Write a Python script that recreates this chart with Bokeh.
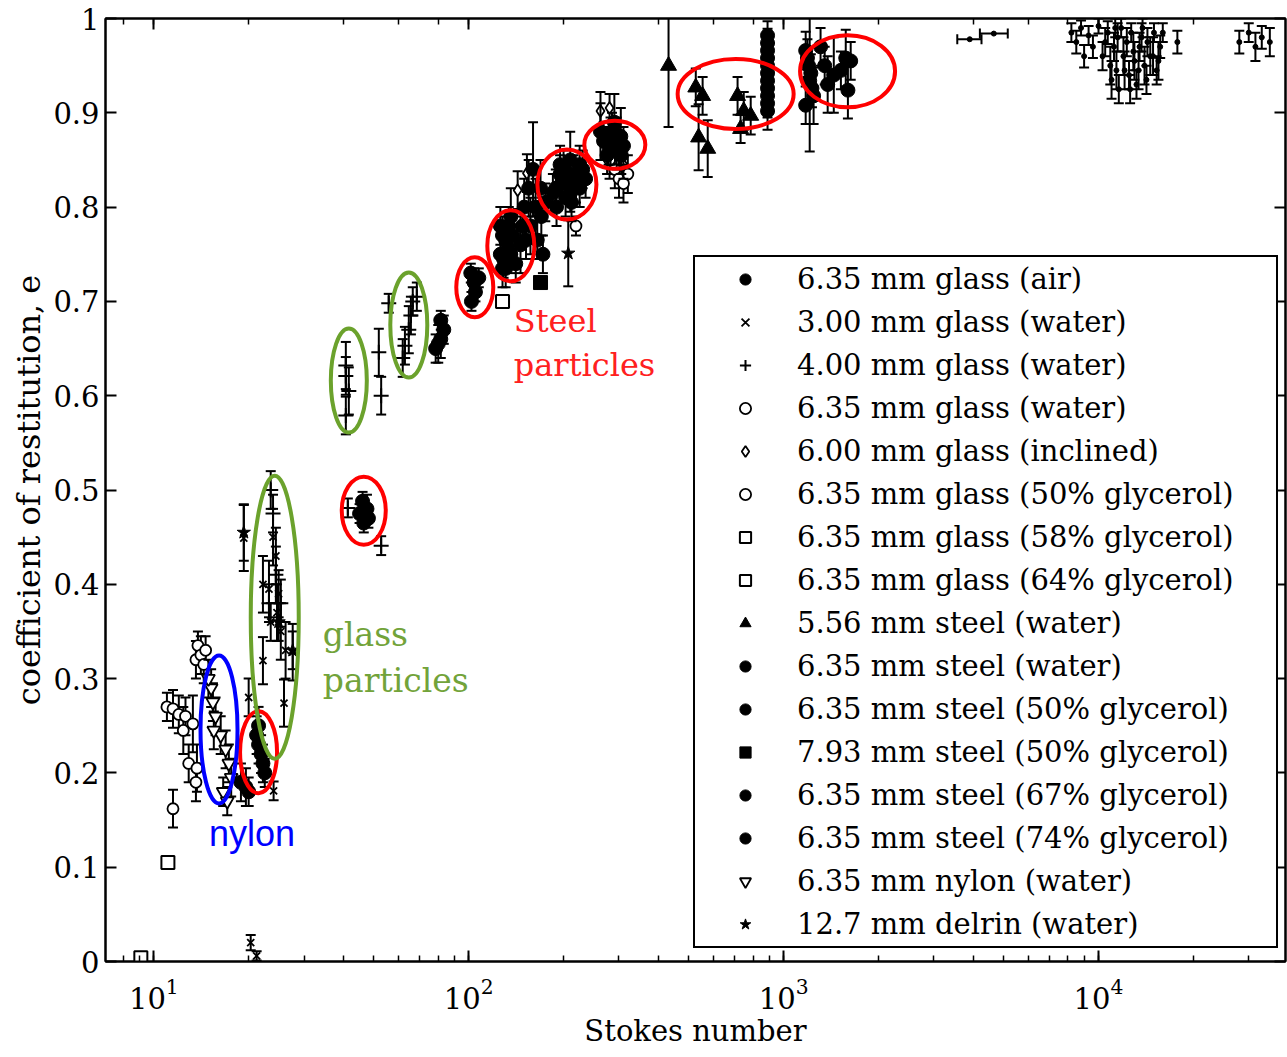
import numpy as np
from bokeh.plotting import figure
from bokeh.models import (LogAxis, LinearAxis, FixedTicker, LogTicker, CustomJSTickFormatter,
                          Legend, LegendItem, Range1d)
from bokeh.core.properties import value
from bokeh.embed import file_html
from bokeh.resources import INLINE

# ---------------- data (Stokes number, coefficient of restitution, y error) ----------------
y_ticks = [0, 0.1, 0.2, 0.3, 0.4, 0.5, 0.6, 0.7, 0.8, 0.9, 1.0]

air_x = [8200, 8500, 8800, 9300, 9600, 10000, 10300, 10700, 10900, 11000, 11200, 11400, 11600,
         11800, 12000, 12300, 12500, 12700, 13000, 13200, 13500, 13800, 14000, 14300, 14600,
         15000, 15300, 15700, 17800, 28000, 30000, 31500, 33000, 35000,
         11500, 12100, 12900, 13400, 14200, 14900, 15500, 12600, 11300, 13700, 10500, 9000, 16000]
air_y = [0.985, 0.975, 0.990, 0.982, 0.970, 0.992, 0.960, 0.985, 0.950, 0.935, 0.970, 0.945, 0.925,
         0.990, 0.960, 0.975, 0.940, 0.985, 0.955, 0.930, 0.970, 0.990, 0.950, 0.975, 0.960,
         0.985, 0.945, 0.970, 0.975, 0.975, 0.985, 0.970, 0.980, 0.975,
         0.980, 0.945, 0.965, 0.945, 0.935, 0.960, 0.955, 0.925, 0.990, 0.980, 0.975, 0.960, 0.985]
air_e = [0.010, 0.012, 0.008, 0.010, 0.012, 0.008, 0.015, 0.012, 0.020, 0.020, 0.015, 0.020, 0.015,
         0.010, 0.020, 0.015, 0.015, 0.010, 0.020, 0.015, 0.015, 0.010, 0.020, 0.015, 0.020,
         0.010, 0.015, 0.012, 0.012, 0.012, 0.010, 0.015, 0.012, 0.015,
         0.015, 0.020, 0.020, 0.020, 0.015, 0.020, 0.020, 0.015, 0.010, 0.015, 0.015, 0.012, 0.010]
air_h_x = [3900, 4650]
air_h_y = [0.978, 0.984]
air_h_xlo = [3560, 4200]
air_h_xhi = [4250, 5150]

g300_x = [19.3, 23.9, 24.4, 22.2, 23.2, 24.6, 24.9, 25.3, 26.2, 22.2, 27.6, 20.0, 25.9, 24.0, 20.3, 21.2, 23.5]
g300_y = [0.449, 0.45, 0.43, 0.40, 0.395, 0.37, 0.39, 0.35, 0.33, 0.319, 0.328, 0.28, 0.274, 0.181, 0.02, 0.006, 0.36]
g300_e = [0.035, 0.03, 0.03, 0.03, 0.03, 0.03, 0.025, 0.03, 0.03, 0.025, 0.03, 0.02, 0.025, 0.01, 0.008, 0.005, 0.02]

g400_x = [40.7, 40.7, 41.6, 40.7, 51.8, 52.7, 55.7, 62.7, 64.5, 65.5, 66.4, 68.4, 61.7, 41.3, 52.7,
          23.5, 23.9, 24.4, 23.2, 25.3]
g400_y = [0.632, 0.621, 0.605, 0.579, 0.646, 0.60, 0.698, 0.653, 0.67, 0.685, 0.70, 0.705, 0.64, 0.481, 0.441,
          0.50, 0.475, 0.41, 0.38, 0.38]
g400_e = [0.025, 0.02, 0.025, 0.02, 0.025, 0.02, 0.01, 0.02, 0.025, 0.02, 0.015, 0.015, 0.02, 0.01, 0.01,
          0.02, 0.02, 0.03, 0.02, 0.025]

gw_x = [291, 300, 310, 320, 280, 219]
gw_y = [0.84, 0.83, 0.825, 0.835, 0.85, 0.78]
gw_e = [0.02, 0.02, 0.02, 0.02, 0.02, 0.01]

ginc_x = [262, 280, 153, 143, 310]
ginc_y = [0.902, 0.905, 0.836, 0.818, 0.845]
ginc_e = [0.02, 0.015, 0.02, 0.02, 0.015]

g50_x = [13.6, 13.8, 14.1, 14.4, 14.6, 11.0, 11.5, 12.0, 12.6, 13.3, 12.9, 13.7, 13.6, 11.5, 12.4]
g50_y = [0.32, 0.335, 0.325, 0.315, 0.33, 0.27, 0.268, 0.262, 0.26, 0.252, 0.21, 0.205, 0.19, 0.162, 0.245]
g50_e = [0.02, 0.015, 0.02, 0.02, 0.015, 0.015, 0.02, 0.02, 0.02, 0.03, 0.02, 0.025, 0.02, 0.02, 0.025]

g58_x = [11.08, 128]
g58_y = [0.105, 0.70]
g58_e = [0, 0]

g64_x = [9.09]
g64_y = [0.004]
g64_e = [0]

s556_x = [431, 526, 553, 537, 574, 714, 747, 786, 730]
s556_y = [0.950, 0.927, 0.918, 0.874, 0.862, 0.918, 0.902, 0.897, 0.883]
s556_e = [0.065, 0.02, 0.02, 0.035, 0.03, 0.02, 0.02, 0.02, 0.015]

sw_x = [889, 889, 889, 889, 889, 889, 1175, 1200, 1210, 1245, 1175, 1310, 1350, 1380, 1443, 1575, 1633,
        1600, 1520, 262, 282, 295, 304, 275, 290, 310,
        889, 889, 889, 889, 889, 1190, 1220, 1230, 268, 285, 300, 278, 295, 305]
sw_y = [0.982, 0.966, 0.950, 0.934, 0.918, 0.902, 0.966, 0.950, 0.934, 0.918, 0.908, 0.97, 0.95, 0.93,
        0.94, 0.958, 0.955, 0.924, 0.945, 0.88, 0.87, 0.86, 0.875, 0.855, 0.89, 0.865,
        0.974, 0.958, 0.942, 0.926, 0.910, 0.958, 0.942, 0.926, 0.87, 0.88, 0.87, 0.865, 0.875, 0.855]
sw_e = [0.015, 0.015, 0.015, 0.015, 0.015, 0.02, 0.02, 0.02, 0.075, 0.03, 0.02, 0.02, 0.02, 0.03,
        0.04, 0.03, 0.02, 0.03, 0.02, 0.03, 0.025, 0.02, 0.03, 0.02, 0.03, 0.02,
        0.015, 0.015, 0.015, 0.015, 0.015, 0.02, 0.02, 0.02, 0.02, 0.02, 0.02, 0.02, 0.02, 0.02]

s50_x = [189, 195, 203, 210, 219, 203, 195, 235, 225, 210, 190, 157, 163, 169, 160, 165, 172,
         200, 215, 198, 208, 225, 185, 230, 212, 150, 155, 148, 152, 170, 175]
s50_y = [0.82, 0.835, 0.83, 0.815, 0.825, 0.81, 0.845, 0.83, 0.845, 0.85, 0.80, 0.78, 0.80, 0.82, 0.84, 0.765, 0.75,
         0.84, 0.835, 0.825, 0.83, 0.82, 0.815, 0.84, 0.805, 0.80, 0.82, 0.78, 0.765, 0.79, 0.805]
s50_e = [0.02, 0.02, 0.02, 0.02, 0.02, 0.02, 0.02, 0.02, 0.02, 0.03, 0.02, 0.03, 0.03, 0.03, 0.05, 0.02, 0.02,
         0.02, 0.02, 0.02, 0.02, 0.02, 0.02, 0.02, 0.02, 0.03, 0.03, 0.02, 0.02, 0.02, 0.02]

s793_x = [169]
s793_y = [0.72]
s793_e = [0]

s67_x = [126, 131, 136, 141, 131, 136, 146, 126, 101.5, 104, 105, 102, 107.6,
         128, 133, 138, 129, 134, 128]
s67_y = [0.78, 0.765, 0.75, 0.74, 0.735, 0.79, 0.76, 0.75, 0.73, 0.72, 0.71, 0.70, 0.725,
         0.77, 0.755, 0.77, 0.745, 0.78, 0.735]
s67_e = [0.02, 0.02, 0.02, 0.02, 0.02, 0.03, 0.03, 0.02, 0.01, 0.015, 0.01, 0.01, 0.01,
         0.02, 0.02, 0.02, 0.02, 0.02, 0.02]

s74_x = [78.5, 81.5, 83.3, 81.5, 80, 45, 46.4, 47.5, 46, 48, 21.2, 21.5, 21.9, 22.2, 22.5, 21.5, 18.9, 19.6, 20.0]
s74_y = [0.65, 0.66, 0.67, 0.68, 0.655, 0.475, 0.465, 0.48, 0.488, 0.47, 0.24, 0.23, 0.22, 0.21, 0.20, 0.25,
         0.19, 0.185, 0.18]
s74_e = [0.015, 0.02, 0.015, 0.01, 0.02, 0.01, 0.01, 0.015, 0.01, 0.01, 0.02, 0.02, 0.02, 0.02, 0.015, 0.02,
         0.02, 0.02, 0.015]

ny_x = [15.2, 15.4, 15.7, 16.3, 16.9, 17.3, 17.6, 16.6, 17.1, 14.9, 15.5]
ny_y = [0.29, 0.275, 0.26, 0.24, 0.225, 0.21, 0.195, 0.18, 0.17, 0.30, 0.245]
ny_e = [0.02, 0.02, 0.02, 0.02, 0.02, 0.02, 0.02, 0.015, 0.015, 0.02, 0.02]

del_x = [207, 19.3, 27.6, 24.9]
del_y = [0.751, 0.455, 0.33, 0.36]
del_e = [0.035, 0.03, 0.02, 0.02]

labels = ["6.35 mm glass (air)", "3.00 mm glass (water)", "4.00 mm glass (water)",
          "6.35 mm glass (water)", "6.00 mm glass (inclined)", "6.35 mm glass (50% glycerol)",
          "6.35 mm glass (58% glycerol)", "6.35 mm glass (64% glycerol)", "5.56 mm steel (water)",
          "6.35 mm steel (water)", "6.35 mm steel (50% glycerol)", "7.93 mm steel (50% glycerol)",
          "6.35 mm steel (67% glycerol)", "6.35 mm steel (74% glycerol)", "6.35 mm nylon (water)",
          "12.7 mm delrin (water)"]

# annotation positions (data coords) -- ellipses drawn with screen-unit sizes
red_ell_x = [21.5, 46.4, 104.5, 136, 205, 291, 704, 1596]
red_ell_y = [0.222, 0.478, 0.715, 0.759, 0.824, 0.866, 0.920, 0.944]
red_ell_w = [37, 44, 37, 47, 59, 61, 116, 95]
red_ell_h = [82, 68, 60, 71, 70, 48, 70, 72]
green_ell_x = [41.6, 64.5, 24.2]
green_ell_y = [0.616, 0.675, 0.365]
green_ell_w = [36, 37, 48]
green_ell_h = [104, 105, 283]
blue_ell_x = [16.1]
blue_ell_y = [0.246]
blue_ell_w = [37]
blue_ell_h = [148]

# ---------------- figure ----------------
p = figure(width=1287, height=1057, x_axis_type="log",
           x_range=Range1d(7.02, 39250), y_range=Range1d(0, 1),
           output_backend="svg", toolbar_location=None,
           min_border_left=105, min_border_right=2, min_border_top=18, min_border_bottom=96)
p.xgrid.visible = False
p.ygrid.visible = False
p.outline_line_color = "black"
p.outline_line_width = 2
p.background_fill_color = "white"

FONT = "DejaVu Serif"

for ax in p.xaxis:
    ax.major_tick_in = 11
    ax.major_tick_out = 0
    ax.minor_tick_in = 6
    ax.minor_tick_out = 0
    ax.axis_line_width = 2
    ax.major_tick_line_width = 2
    ax.minor_tick_line_width = 1.5
    ax.major_label_text_font = FONT
    ax.major_label_text_font_size = "29px"
    ax.major_label_text_color = "black"
    ax.major_label_standoff = 16
    ax.axis_label = "Stokes number"
    ax.axis_label_text_font = FONT
    ax.axis_label_text_font_size = "29px"
    ax.axis_label_text_font_style = "normal"
    ax.axis_label_text_color = "black"
    ax.axis_label_standoff = 2

yfmt = CustomJSTickFormatter(code="return tick.toFixed(1).replace(/\\.0$/, '');")
for ax in p.yaxis:
    ax.ticker = FixedTicker(ticks=y_ticks)
    ax.formatter = yfmt
    ax.major_tick_in = 11
    ax.major_tick_out = 0
    ax.minor_tick_line_color = None
    ax.axis_line_width = 2
    ax.major_tick_line_width = 2
    ax.major_label_text_font = FONT
    ax.major_label_text_font_size = "29px"
    ax.major_label_text_color = "black"
    ax.major_label_standoff = 6
    ax.axis_label = "coefficient of restitution, e"
    ax.axis_label_text_font = FONT
    ax.axis_label_text_font_size = "32px"
    ax.axis_label_text_font_style = "normal"
    ax.axis_label_text_color = "black"
    ax.axis_label_standoff = 2

top = LogAxis(ticker=LogTicker(), major_tick_in=11, major_tick_out=0, minor_tick_in=6, minor_tick_out=0,
              axis_line_width=2, major_tick_line_width=2, minor_tick_line_width=1.5,
              major_label_text_font_size="1px", major_label_text_color=None, major_label_standoff=0)
p.add_layout(top, "above")
right = LinearAxis(ticker=FixedTicker(ticks=y_ticks), major_tick_in=11, major_tick_out=0,
                   minor_tick_line_color=None, axis_line_width=2, major_tick_line_width=2,
                   major_label_text_font_size="1px", major_label_text_color=None, major_label_standoff=0)
p.add_layout(right, "right")


def draw(xs, ys, es, marker, size, fill, lw):
    xs = np.asarray(xs, float)
    ys = np.asarray(ys, float)
    es = np.asarray(es, float)
    m = es > 0
    if m.any():
        p.segment(xs[m], ys[m] - es[m], xs[m], ys[m] + es[m], line_color="black", line_width=2)
        p.scatter(np.concatenate([xs[m], xs[m]]), np.concatenate([ys[m] - es[m], ys[m] + es[m]]),
                  marker="dash", size=10, line_color="black", line_width=2)
    return p.scatter(xs, ys, marker=marker, size=size, fill_color=fill, line_color="black", line_width=lw)


# horizontal error bars for two air points
p.segment(air_h_xlo, air_h_y, air_h_xhi, air_h_y, line_color="black", line_width=2)
p.scatter(air_h_xlo + air_h_xhi, air_h_y + air_h_y, marker="dash", angle=np.pi / 2, size=10,
          line_color="black", line_width=2)

series = [
    (air_x + air_h_x, air_y + air_h_y, air_e + [0, 0], "circle", 5, "black", 1),
    (g300_x, g300_y, g300_e, "x", 10, None, 1.8),
    (g400_x, g400_y, g400_e, "cross", 15, None, 2),
    (gw_x, gw_y, gw_e, "circle", 11, "white", 1.8),
    (ginc_x, ginc_y, ginc_e, "diamond", 12, "white", 1.8),
    (g50_x, g50_y, g50_e, "circle", 11, "white", 1.8),
    (g58_x, g58_y, g58_e, "square", 13, "white", 2),
    (g64_x, g64_y, g64_e, "square", 13, "white", 2),
    (s556_x, s556_y, s556_e, "triangle", 16, "black", 1),
    (sw_x, sw_y, sw_e, "circle", 14, "black", 1),
    (s50_x, s50_y, s50_e, "circle", 14, "black", 1),
    (s793_x, s793_y, s793_e, "square", 14, "black", 1),
    (s67_x, s67_y, s67_e, "circle", 14, "black", 1),
    (s74_x, s74_y, s74_e, "circle", 14, "black", 1),
    (ny_x, ny_y, ny_e, "inverted_triangle", 13, "white", 1.8),
    (del_x, del_y, del_e, "star", 14, "black", 1),
]

renderers = []
for (xs, ys, es, mk, sz, fill, lw) in series:
    renderers.append(draw(xs, ys, es, mk, sz, fill, lw))

# ellipses
p.ellipse(x=red_ell_x, y=red_ell_y, width=red_ell_w, height=red_ell_h, width_units="screen",
          height_units="screen", fill_color=None, line_color="#ff0000", line_width=4)
p.ellipse(x=green_ell_x, y=green_ell_y, width=green_ell_w, height=green_ell_h, width_units="screen",
          height_units="screen", fill_color=None, line_color="#6ba22c", line_width=4)
p.ellipse(x=blue_ell_x, y=blue_ell_y, width=blue_ell_w, height=blue_ell_h, width_units="screen",
          height_units="screen", fill_color=None, line_color="#0000ff", line_width=4)

# text annotations
p.text(x=[139, 139], y=[0.699, 0.653], text=["Steel", "particles"], text_color="#ff2020",
       text_font=value(FONT), text_font_size="32px", text_baseline="top", text_align="left")
p.text(x=[34.4, 34.4], y=[0.367, 0.319], text=["glass", "particles"], text_color="#72a33a",
       text_font=value(FONT), text_font_size="33px", text_baseline="top", text_align="left")
p.text(x=[14.95], y=[0.158], text=["nylon"], text_color="#0000ff",
       text_font=value("Liberation Sans"), text_font_size="36px", text_baseline="top", text_align="left")

legend = Legend(items=[LegendItem(label=l, renderers=[r]) for l, r in zip(labels, renderers)],
                location=(588, 13), margin=0, padding=2, spacing=3, label_height=40,
                glyph_width=96, glyph_height=28, label_standoff=4, label_width=477,
                label_text_font=FONT, label_text_font_size="29px", label_text_color="black",
                border_line_color="black", border_line_width=2, border_line_alpha=1,
                background_fill_alpha=1)
p.add_layout(legend)

open("out.html", "w").write(file_html(p, INLINE))
